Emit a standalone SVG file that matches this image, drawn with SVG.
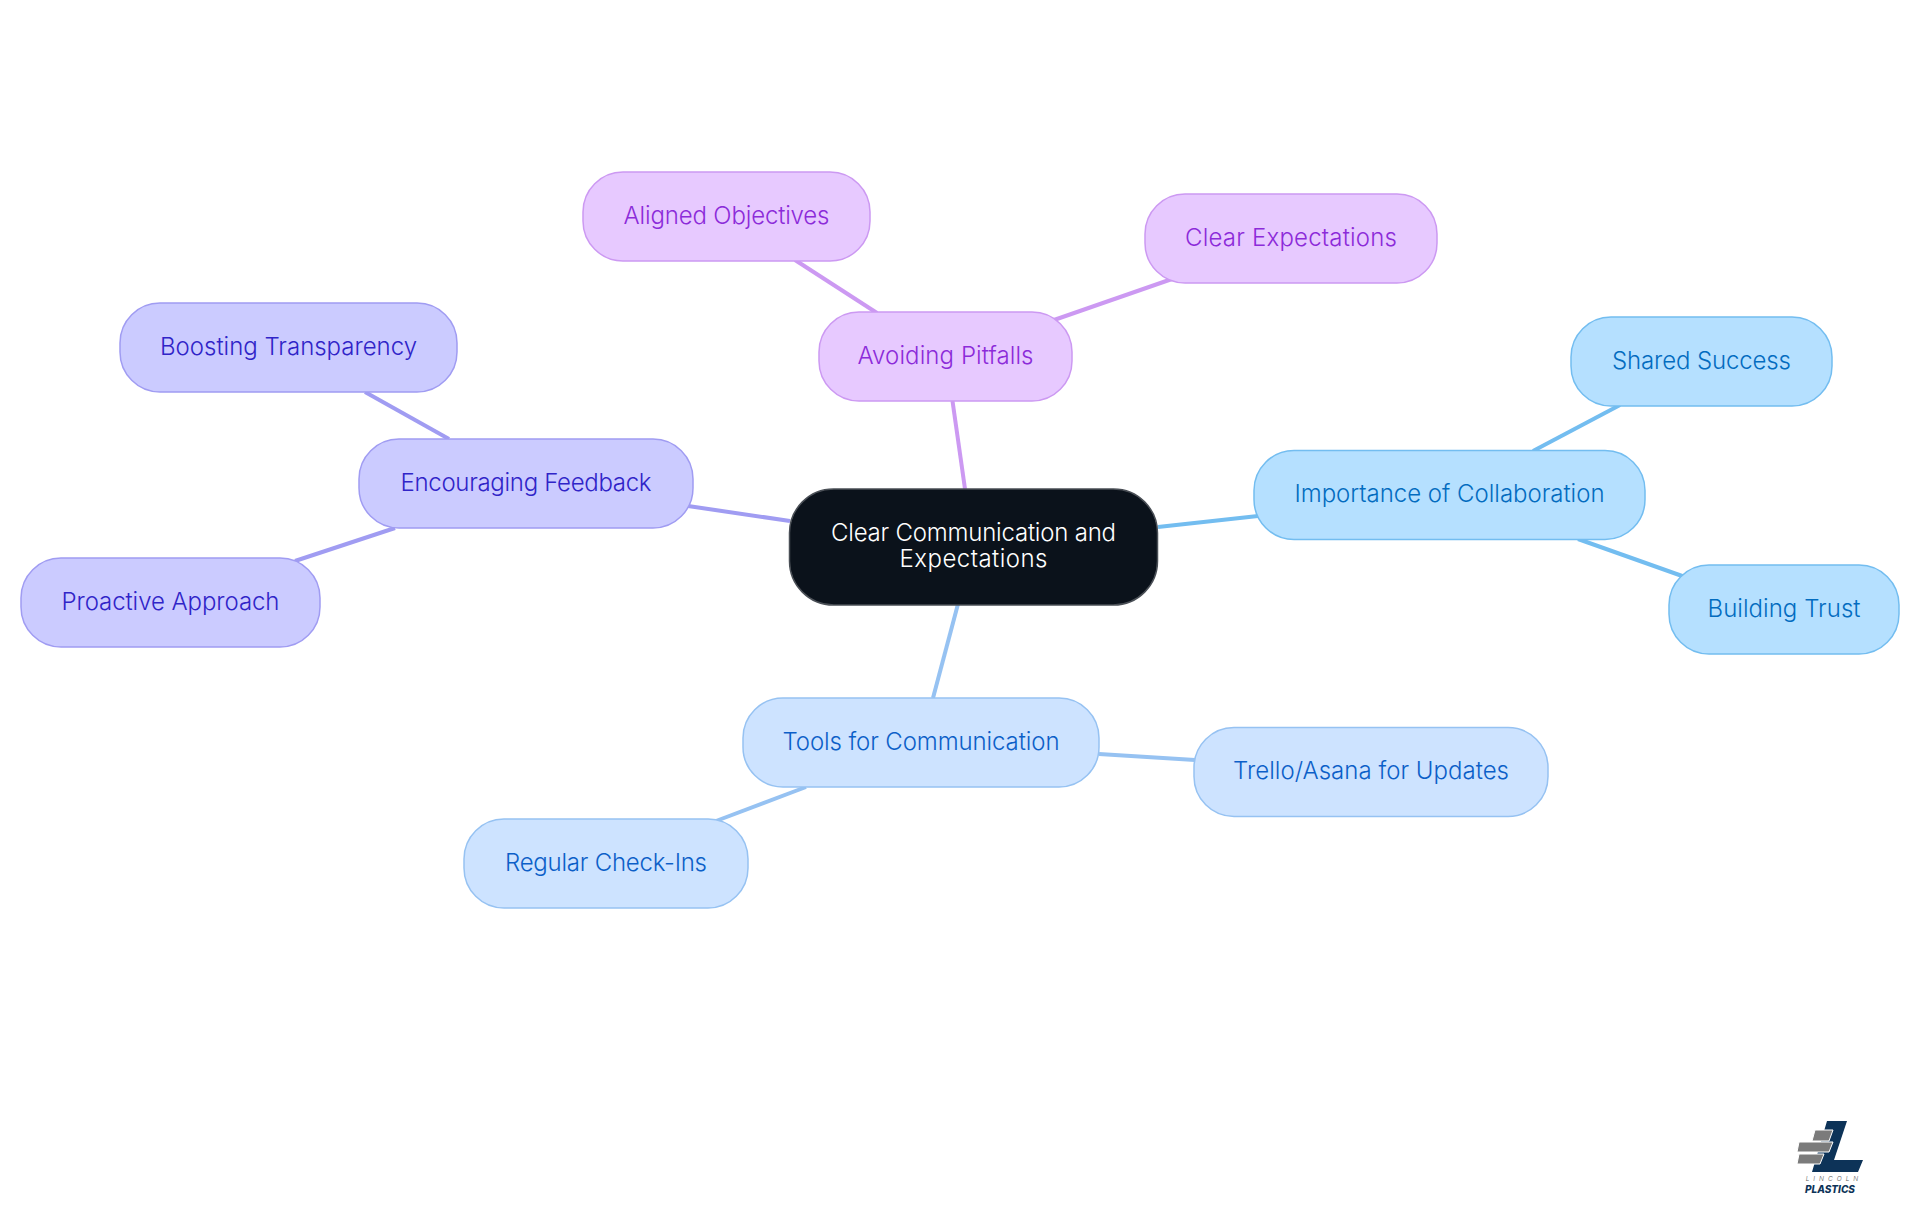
<svg xmlns="http://www.w3.org/2000/svg" width="1920" height="1215" viewBox="0 0 1920 1215">
<style>
text{font-family:"Inter","Noto Sans","Liberation Sans",sans-serif;font-size:24px;text-anchor:middle;font-weight:350}
.c{fill:none;stroke-width:4}
rect{stroke-width:1.5}
.p rect{fill:#e7c9ff;stroke:#cc99f2}.p text{fill:#8c2bd9}.p2{stroke:#cc99f2}
.v rect{fill:#cbcbff;stroke:#a09cf2}.v text{fill:#3024c8}.v2{stroke:#a09cf2}
.b rect{fill:#b5e0ff;stroke:#73bdf0}.b text{fill:#036cbf}.b2{stroke:#73bdf0}
.l rect{fill:#cde3ff;stroke:#96c2f2}.l text{fill:#0c5fc8}.l2{stroke:#96c2f2}
</style>
<rect width="1920" height="1215" fill="#fff" style="stroke:none"/>
<g id="connectors">
<path class="c p2" d="M965 489L952.500 401"/>
<path class="c p2" d="M877 313L795 260"/>
<path class="c p2" d="M1054 320L1172 279"/>
<path class="c v2" d="M790 521L688 506"/>
<path class="c v2" d="M449 439L365 392"/>
<path class="c v2" d="M395 528L295 561"/>
<path class="c b2" d="M1158 527L1258 516"/>
<path class="c b2" d="M1533 451L1620 405"/>
<path class="c b2" d="M1578 539L1685 577"/>
<path class="c l2" d="M958 604L933 698"/>
<path class="c l2" d="M1099 754L1195 760"/>
<path class="c l2" d="M806 787L716 821"/>
</g>
<g id="center"><rect x="789.500" y="489" width="368" height="116" rx="44" fill="#0b121b" stroke="#4a4f56"/><text x="973.500" y="541" fill="#fff" textLength="285">Clear Communication and</text><text x="973.500" y="566.500" fill="#fff" textLength="148">Expectations</text></g>
<g id="avoiding" class="p"><rect x="819" y="312" width="253" height="89" rx="40"/><text x="945.500" y="364" textLength="176">Avoiding Pitfalls</text></g>
<g id="aligned" class="p"><rect x="583" y="172" width="287" height="89" rx="40"/><text x="726.500" y="224" textLength="206">Aligned Objectives</text></g>
<g id="clear" class="p"><rect x="1145" y="194" width="292" height="89" rx="40"/><text x="1291" y="246" textLength="212">Clear Expectations</text></g>
<g id="feedback" class="v"><rect x="359" y="439" width="334" height="89" rx="40"/><text x="526" y="491" textLength="251">Encouraging Feedback</text></g>
<g id="boosting" class="v"><rect x="120" y="303" width="337" height="89" rx="40"/><text x="288.500" y="355" textLength="257">Boosting Transparency</text></g>
<g id="proactive" class="v"><rect x="21" y="558" width="299" height="89" rx="40"/><text x="170.500" y="610" textLength="218">Proactive Approach</text></g>
<g id="importance" class="b"><rect x="1254" y="450.500" width="391" height="89" rx="40"/><text x="1449.500" y="502" textLength="310">Importance of Collaboration</text></g>
<g id="shared" class="b"><rect x="1571" y="317" width="261" height="89" rx="40"/><text x="1701.500" y="369" textLength="179">Shared Success</text></g>
<g id="trust" class="b"><rect x="1669" y="565" width="230" height="89" rx="40"/><text x="1784" y="617" textLength="153">Building Trust</text></g>
<g id="tools" class="l"><rect x="743" y="698" width="356" height="89" rx="40"/><text x="921" y="750" textLength="277">Tools for Communication</text></g>
<g id="trello" class="l"><rect x="1194" y="727.500" width="354" height="89" rx="40"/><text x="1371" y="779" textLength="276">Trello/Asana for Updates</text></g>
<g id="regular" class="l"><rect x="464" y="819" width="284" height="89" rx="40"/><text x="606" y="871" textLength="202">Regular Check-Ins</text></g>
<g id="logo">
<path d="M1827 1121H1847L1834 1160H1863L1858 1172H1812Z" fill="#0d3358"/>
<path d="M1815 1130H1833L1829 1141H1812ZM1799 1142H1833L1829 1152H1797ZM1799 1154H1824L1820 1164H1797Z" fill="#7b7b7b" stroke="#fff" stroke-width="1"/>
<text x="1834" y="1181" style="font-size:6.500px;letter-spacing:4px;font-style:italic" fill="#555">LINCOLN</text>
<text x="1830" y="1193" style="font-size:10px;font-weight:800;font-style:italic" fill="#0d3358">PLASTICS</text>
</g>
</svg>
